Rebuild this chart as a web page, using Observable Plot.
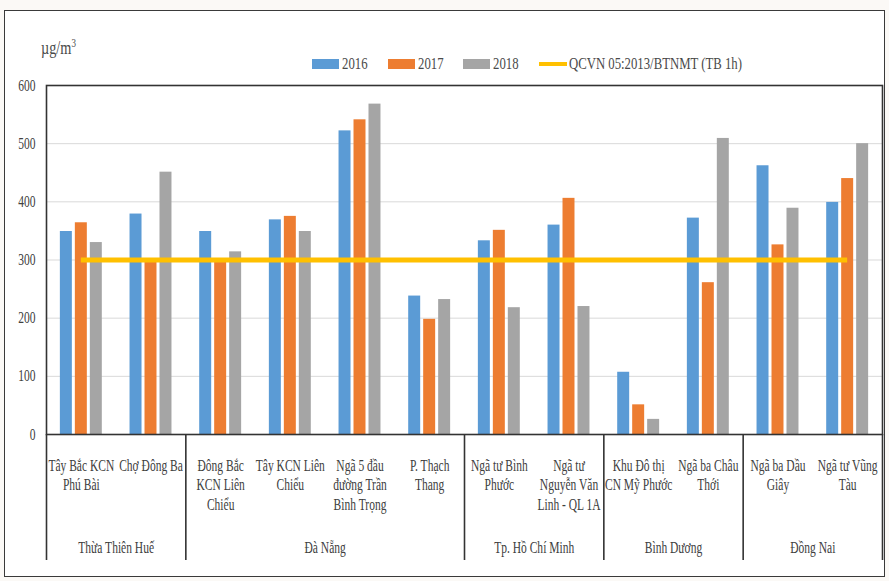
<!DOCTYPE html>
<html>
<head>
<meta charset="utf-8">
<script src="https://cdn.jsdelivr.net/npm/d3@7"></script>
<script src="https://cdn.jsdelivr.net/npm/@observablehq/plot@0.6"></script>
<style>
  body { margin: 0; background: #fbf9f6; }
  #chart { position: relative; width: 889px; height: 581px; overflow: hidden;
           font-family: "Liberation Serif", "Times New Roman", serif; color: #404040; }
  #box { position: absolute; left: 4px; top: 10px; width: 879px; height: 565px;
         border: 1.5px solid #3a3a3a; background: #fff; }
  #chart svg { position: absolute; left: 0; top: 0; }
  #unit { position: absolute; left: 41px; top: 31px; font-size: 19px; line-height: 24px;
          font-family: "Liberation Serif", serif; color: #4a4a4a; }
  #unit sup { font-size: 12px; vertical-align: 7px; }
  #legend { position: absolute; left: 312px; top: 53px; display: flex; align-items: center;
            font-size: 17px; line-height: 22px; font-family: "Liberation Serif", serif; color: #4a4a4a; }
  .item { display: flex; align-items: center; margin-right: 20px; }
  .sq { display: inline-block; width: 27px; height: 10px; margin-right: 3px; }
  .ln { display: inline-block; width: 28px; height: 4px; margin-right: 2px; }
  .narrow { display: inline-block; transform: scaleX(0.75); transform-origin: 0 50%; white-space: nowrap;
            font-family: "Liberation Serif", serif; }
</style>
</head>
<body>
<div id="chart">
  <div id="box"></div>
  <div id="unit"></div>
  <div id="legend"></div>
</div>
<script>
// Monitoring sites, grouped by province / city
const categories = [
  "Tây Bắc KCN\nPhú Bài",
  "Chợ Đông Ba",
  "Đông Bắc\nKCN Liên\nChiểu",
  "Tây KCN Liên\nChiểu",
  "Ngã 5 đầu\nđường Trần\nBình Trọng",
  "P. Thạch\nThang",
  "Ngã tư Bình\nPhước",
  "Ngã tư\nNguyễn Văn\nLinh - QL 1A",
  "Khu Đô thị\nCN Mỹ Phước",
  "Ngã ba Châu\nThới",
  "Ngã ba Dầu\nGiây",
  "Ngã tư Vũng\nTàu"
];
const groups = ["Thừa Thiên Huế", "Đà Nẵng", "Tp. Hồ Chí Minh", "Bình Dương", "Đồng Nai"];
const groupSizes = [2, 4, 2, 2, 2];

// Concentrations, µg/m³
const years = ["2016", "2017", "2018"];
const values2016 = [349, 379, 349, 369, 522, 238, 333, 360, 107, 372, 462, 399];
const values2017 = [364, 299, 298, 375, 541, 198, 351, 406, 51, 261, 326, 440];
const values2018 = [330, 451, 314, 349, 568, 232, 218, 220, 26, 509, 389, 500];
const seriesValues = [values2016, values2017, values2018];

const standardValue = 300;
const standardLabel = "QCVN 05:2013/BTNMT (TB 1h)";
const unitBase = "µg/m";
const unitExp = "3";
const yTicks = [0, 100, 200, 300, 400, 500, 600];

const barColors = ["#5B9BD5", "#ED7D31", "#A5A5A5"];
const standardColor = "#FFC000";
const ink = "#404040";
const frameInk = "#333333";

// bar layout inside one category band (fractions of the band)
const BAR_STEP = 0.215, BAR_W = 0.172;

const rows = categories.flatMap((c, i) =>
  years.map((y, k) => ({i, k, year: y, value: seriesValues[k][i]}))
);

let start = 0;
const groupRows = groups.map((name, g) => {
  const s = start; start += groupSizes[g];
  return {name, mid: (s + start) / 2, end: start};
});
const boundaries = [0, ...groupRows.map(d => d.end)];

const plot = Plot.plot({
  width: 889,
  height: 581,
  marginTop: 85,
  marginLeft: 46,
  marginRight: 7,
  marginBottom: 147,
  style: {background: "transparent", fontFamily: "'Liberation Serif', serif", fontSize: "16px", color: ink},
  x: {type: "linear", domain: [0, categories.length], axis: null},
  y: {domain: [0, 600], ticks: yTicks, tickSize: 0, tickPadding: 11, label: null},
  color: {domain: years, range: barColors},
  marks: [
    Plot.ruleY(yTicks.filter(t => t > 0 && t < 600), {stroke: "#d9d9d9", strokeWidth: 1}),
    Plot.rect(rows, {
      x1: d => d.i + 0.5 + (d.k - 1) * BAR_STEP - BAR_W / 2,
      x2: d => d.i + 0.5 + (d.k - 1) * BAR_STEP + BAR_W / 2,
      y1: 0,
      y2: "value",
      fill: "year"
    }),
    Plot.ruleY([standardValue], {x1: 0.5, x2: categories.length - 0.5, stroke: standardColor, strokeWidth: 5}),
    Plot.frame({stroke: frameInk, strokeWidth: 1.6}),
    Plot.ruleX(boundaries, {y1: 0, y2: 0, insetBottom: -126, stroke: frameInk, strokeWidth: 1.6}),
    Plot.text(categories, {
      x: (d, i) => i + 0.5, text: d => d,
      frameAnchor: "bottom", lineAnchor: "top", dy: 22.5, lineHeight: 1.22,
      fill: ink, fontSize: 16
    }),
    Plot.text(groupRows, {
      x: "mid", text: "name",
      frameAnchor: "bottom", lineAnchor: "middle", dy: 113,
      fill: ink, fontSize: 16
    })
  ]
});

// narrow the serif type horizontally, keeping each label's anchor point
function narrowText(svg, k) {
  svg.querySelectorAll("text").forEach(t => {
    const x = +t.getAttribute("x") || 0, y = +t.getAttribute("y") || 0;
    const tr = t.getAttribute("transform") || "";
    t.setAttribute("transform", `${tr} translate(${x},${y}) scale(${k},1) translate(${-x},${-y})`);
  });
}
narrowText(plot, 0.72);
document.getElementById("chart").appendChild(plot);

// unit label
const unit = document.getElementById("unit");
unit.innerHTML = `<span class="narrow">${unitBase}<sup>${unitExp}</sup></span>`;

// legend: three bar swatches and the standard line
const legend = document.getElementById("legend");
const entries = years.map((y, k) => ({label: y, color: barColors[k], line: false}))
  .concat([{label: standardLabel, color: standardColor, line: true}]);
for (const e of entries) {
  const item = document.createElement("div");
  item.className = "item";
  const sw = document.createElement("span");
  sw.className = e.line ? "ln" : "sq";
  sw.style.background = e.color;
  const lab = document.createElement("span");
  lab.className = "narrow";
  lab.textContent = e.label;
  item.appendChild(sw);
  item.appendChild(lab);
  legend.appendChild(item);
}
document.querySelectorAll(".narrow").forEach(s => {
  s.style.marginRight = `${-(1 - 0.75) * s.offsetWidth}px`;
});
</script>
</body>
</html>
